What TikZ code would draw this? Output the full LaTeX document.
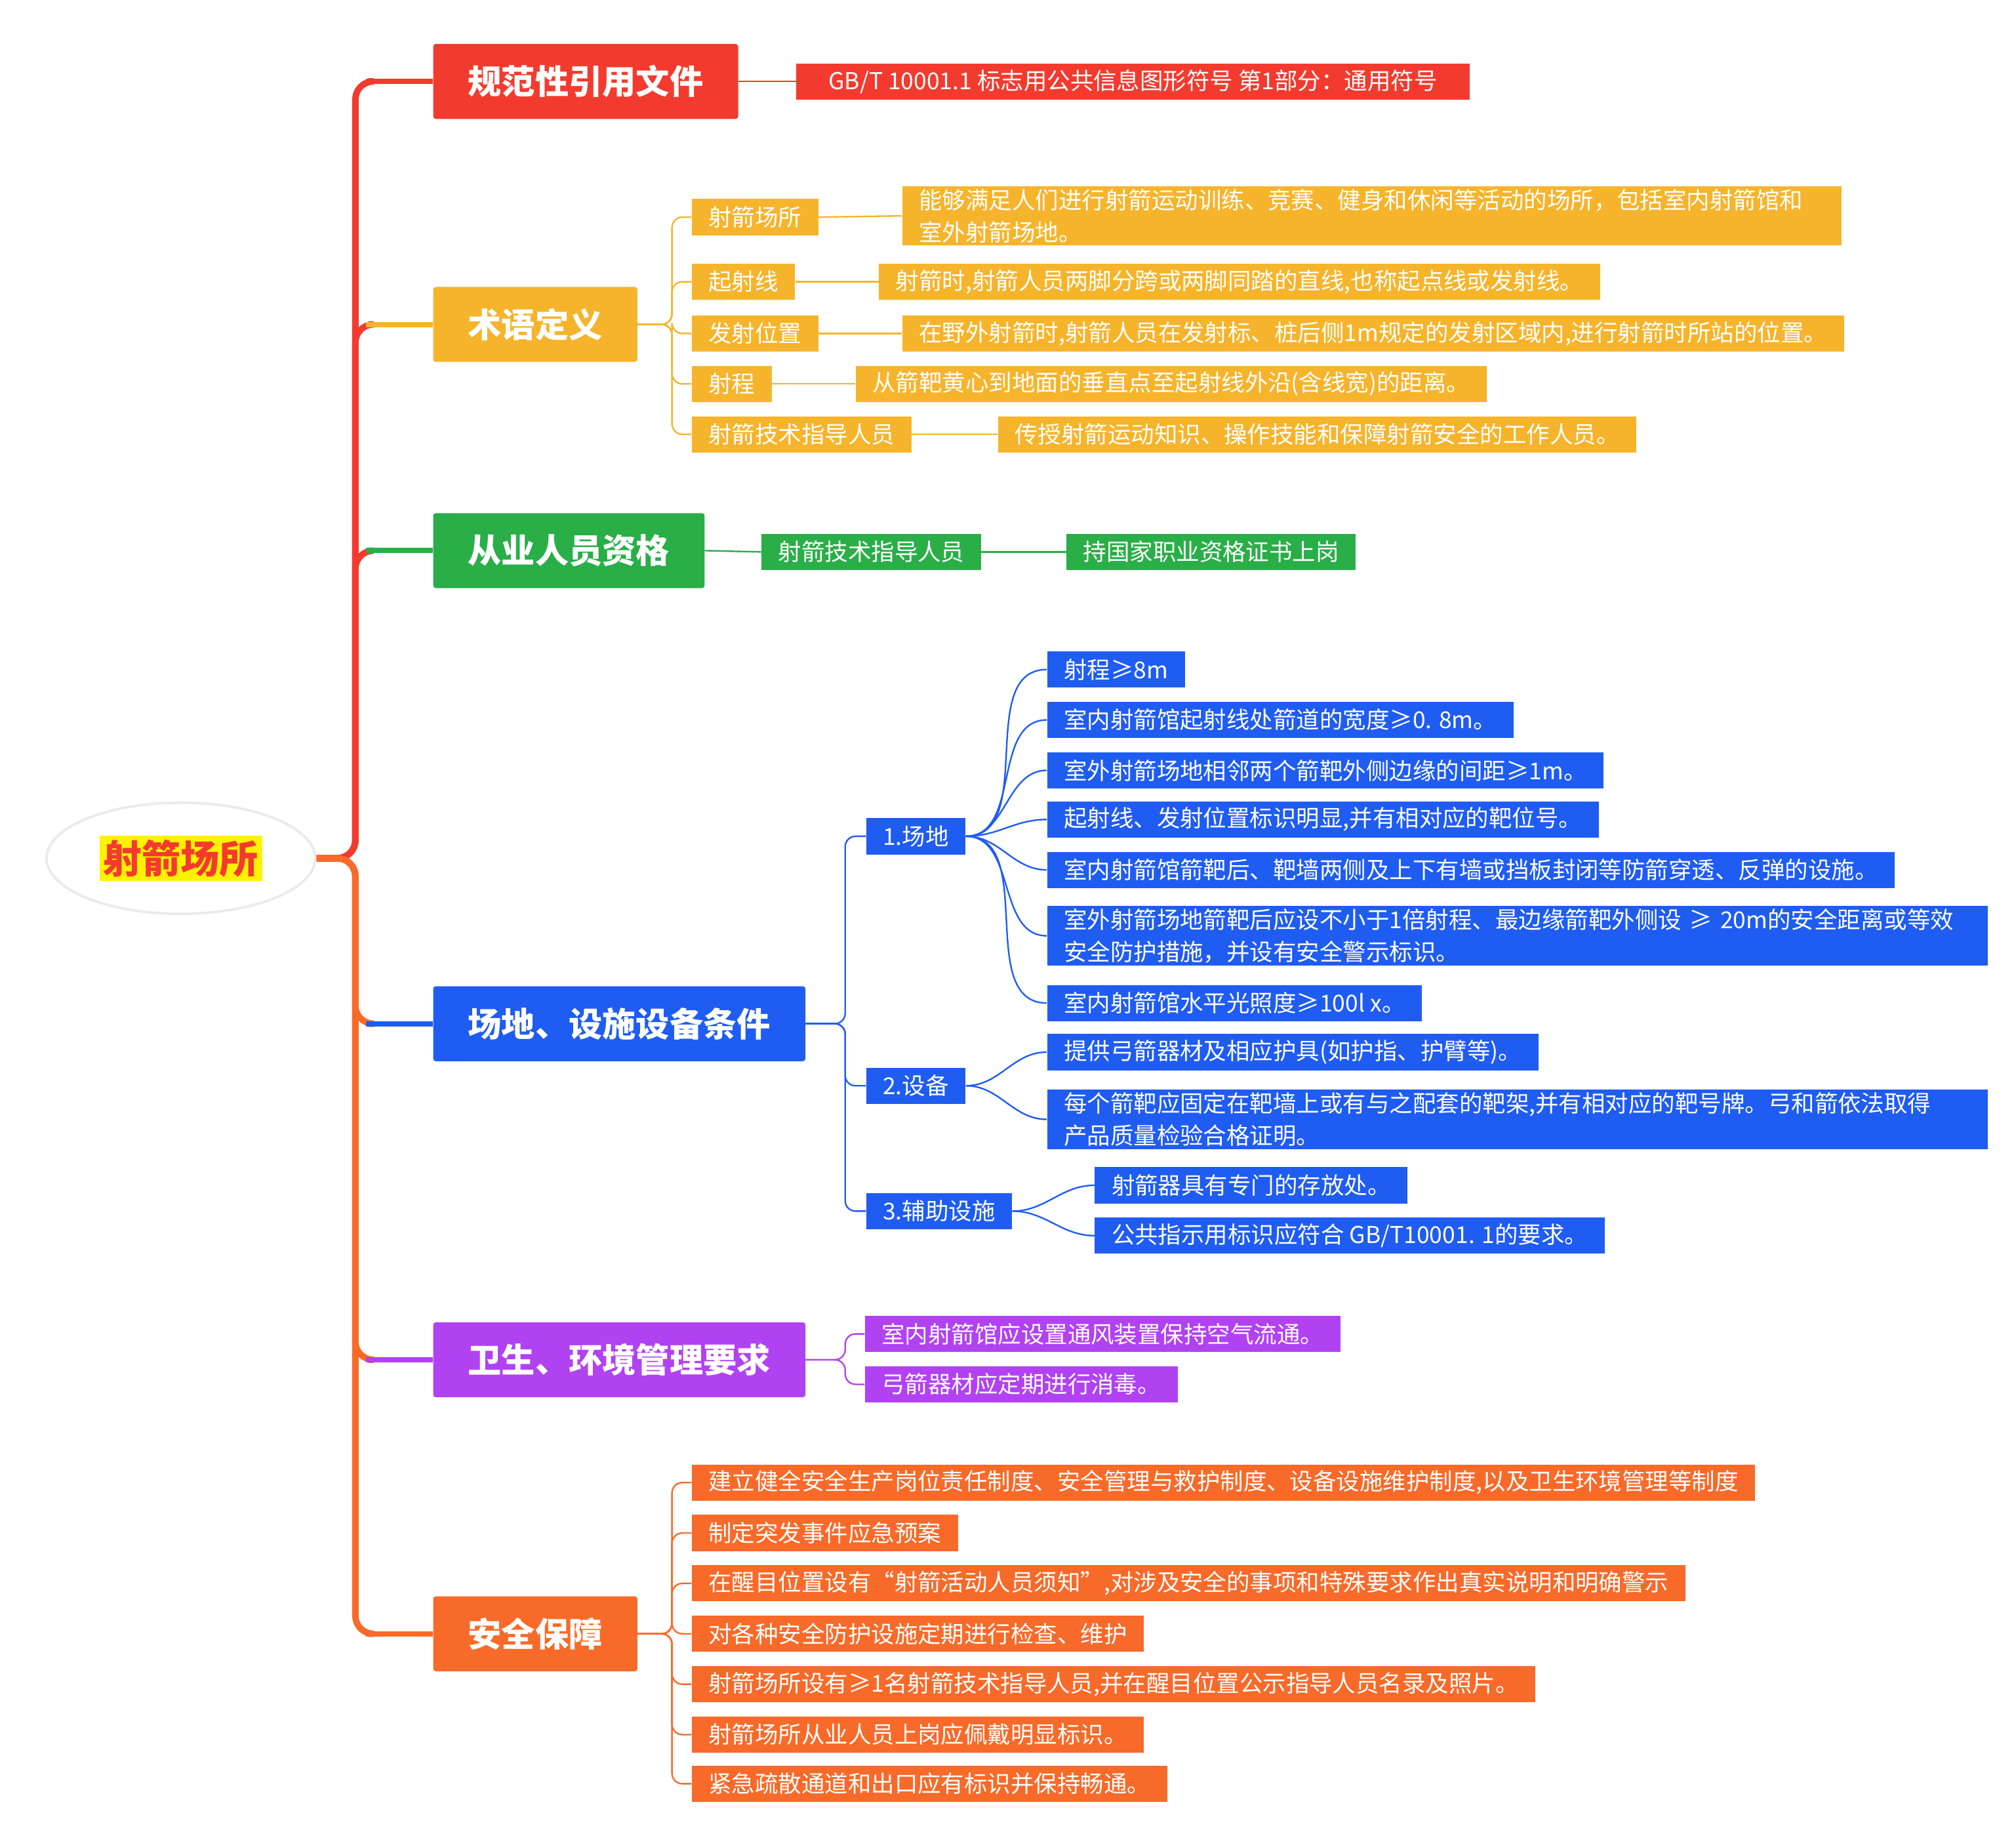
\documentclass[tikz,border=0pt]{standalone}
\usepackage{fontspec}
\setmainfont{Noto Sans CJK SC}
\usepackage{xcolor}
\usetikzlibrary{shapes, arrows, positioning}
\definecolor{cRed}{HTML}{F23B2E}
\definecolor{cYel}{HTML}{F6B42C}
\definecolor{cGrn}{HTML}{2AAE48}
\definecolor{cBlu}{HTML}{1F5CF2}
\definecolor{cPur}{HTML}{B142F2}
\definecolor{cOrg}{HTML}{F86A29}
\tikzset{
  topic/.style={anchor=west, minimum height=58pt, inner xsep=27pt, text=white, font=\fontsize{26}{30}\selectfont\bfseries, rounded corners=2pt},
  leaf/.style={anchor=west, minimum height=28pt, inner xsep=13pt, inner ysep=2pt, text=white, font=\fontsize{18}{25}\selectfont, align=left},
  trunk/.style={line width=5pt, rounded corners=14pt},
  twig/.style={line width=1.2pt}
}
\begin{document}
\begin{tikzpicture}[x=1pt, y=-1pt]
        \useasboundingbox (0,0) rectangle (1560,1420);
        % Root
        \node (root) [ellipse, fill=white, draw=black!8, line width=2pt, minimum width=208pt, minimum height=86pt] at (140,664)
            {\colorbox{yellow}{\fontsize{30}{34}\selectfont\bfseries\color{cRed}射箭场所}};

        % Topics
        \node (ref) [topic, fill=cRed] at (335,63) {规范性引用文件};
        \node (term) [topic, fill=cYel] at (335,251) {术语定义};
        \node (staff) [topic, fill=cGrn] at (335,426) {从业人员资格};
        \node (site) [topic, fill=cBlu] at (335,792) {场地、设施设备条件};
        \node (hyg) [topic, fill=cPur] at (335,1052) {卫生、环境管理要求};
        \node (safe) [topic, fill=cOrg] at (335,1264) {安全保障};

        % Trunk
        \foreach \t in {ref, term, staff}
            \draw[trunk, cRed] (root.east) -- (275,664) |- ([xshift=-50pt]\t.west);
        \foreach \t in {site, hyg, safe}
            \draw[trunk, cOrg] (root.east) -- (275,664) |- ([xshift=-50pt]\t.west);
        \draw[line width=4pt, cRed] (283,63) -- (ref.west);
        \draw[line width=4pt, cYel] (283,251) -- (term.west);
        \draw[line width=4pt, cGrn] (283,426) -- (staff.west);
        \draw[line width=4pt, cBlu] (283,792) -- (site.west);
        \draw[line width=4pt, cPur] (283,1052) -- (hyg.west);
        \draw[line width=4pt, cOrg] (283,1264) -- (safe.west);

        % Reference
        \node (gb) [leaf, fill=cRed, minimum width=521pt] at (616,63) {GB/T 10001.1 标志用公共信息图形符号 第1部分：通用符号};
        \draw[twig, cRed] (ref.east) -- (gb.west);

        % Terms
        \node (t1) [leaf, fill=cYel] at (535,168) {射箭场所};
        \node (d1) [leaf, fill=cYel, text width=701pt] at (698,167) {能够满足人们进行射箭运动训练、竞赛、健身和休闲等活动的场所，包括室内射箭馆和\\室外射箭场地。};
        \node (t2) [leaf, fill=cYel] at (535,218) {起射线};
        \node (d2) [leaf, fill=cYel] at (680,218) {射箭时,射箭人员两脚分跨或两脚同踏的直线,也称起点线或发射线。};
        \node (t3) [leaf, fill=cYel] at (535,258) {发射位置};
        \node (d3) [leaf, fill=cYel] at (698,258) {在野外射箭时,射箭人员在发射标、桩后侧1m规定的发射区域内,进行射箭时所站的位置。};
        \node (t4) [leaf, fill=cYel] at (535,297) {射程};
        \node (d4) [leaf, fill=cYel] at (662,297) {从箭靶黄心到地面的垂直点至起射线外沿(含线宽)的距离。};
        \node (t5) [leaf, fill=cYel] at (535,336) {射箭技术指导人员};
        \node (d5) [leaf, fill=cYel] at (772,336) {传授射箭运动知识、操作技能和保障射箭安全的工作人员。};
        \foreach \i in {1,...,5} {
            \draw[twig, cYel, rounded corners=8pt] (term.east) -- (520,251) |- (t\i.west);
            \draw[twig, cYel] (t\i.east) -- (d\i.west);
        }

        % Staff
        \node (s1) [leaf, fill=cGrn] at (589,427) {射箭技术指导人员};
        \node (s2) [leaf, fill=cGrn] at (825,427) {持国家职业资格证书上岗};
        \draw[twig, cGrn] (staff.east) -- (s1.west);
        \draw[twig, cGrn] (s1.east) -- (s2.west);

        % Site and facilities
        \node (field) [leaf, fill=cBlu] at (670,647) {1.场地};
        \node (equip) [leaf, fill=cBlu] at (670,840) {2.设备};
        \node (aux) [leaf, fill=cBlu] at (670,937) {3.辅助设施};
        \foreach \s in {field, equip, aux}
            \draw[twig, cBlu, rounded corners=8pt] (site.east) -- (654,792) |- (\s.west);
        \node (f1) [leaf, fill=cBlu] at (810,518) {射程≥8m};
        \node (f2) [leaf, fill=cBlu] at (810,557) {室内射箭馆起射线处箭道的宽度≥0. 8m。};
        \node (f3) [leaf, fill=cBlu] at (810,596) {室外射箭场地相邻两个箭靶外侧边缘的间距≥1m。};
        \node (f4) [leaf, fill=cBlu] at (810,634) {起射线、发射位置标识明显,并有相对应的靶位号。};
        \node (f5) [leaf, fill=cBlu] at (810,673) {室内射箭馆箭靶后、靶墙两侧及上下有墙或挡板封闭等防箭穿透、反弹的设施。};
        \node (f6) [leaf, fill=cBlu, text width=702pt] at (810,724) {室外射箭场地箭靶后应设不小于1倍射程、最边缘箭靶外侧设 ≥ 20m的安全距离或等效\\安全防护措施，并设有安全警示标识。};
        \node (f7) [leaf, fill=cBlu] at (810,776) {室内射箭馆水平光照度≥100l x。};
        \foreach \i in {1,...,7}
            \draw[twig, cBlu] (field.east) to[out=0, in=180] (f\i.west);
        \node (e1) [leaf, fill=cBlu] at (810,814) {提供弓箭器材及相应护具(如护指、护臂等)。};
        \node (e2) [leaf, fill=cBlu, text width=702pt] at (810,866) {每个箭靶应固定在靶墙上或有与之配套的靶架,并有相对应的靶号牌。弓和箭依法取得\\产品质量检验合格证明。};
        \foreach \i in {1,2}
            \draw[twig, cBlu] (equip.east) to[out=0, in=180] (e\i.west);
        \node (a1) [leaf, fill=cBlu] at (847,917) {射箭器具有专门的存放处。};
        \node (a2) [leaf, fill=cBlu] at (847,956) {公共指示用标识应符合 GB/T10001. 1的要求。};
        \foreach \i in {1,2}
            \draw[twig, cBlu] (aux.east) to[out=0, in=180] (a\i.west);

        % Hygiene
        \node (h1) [leaf, fill=cPur] at (669,1032) {室内射箭馆应设置通风装置保持空气流通。};
        \node (h2) [leaf, fill=cPur] at (669,1071) {弓箭器材应定期进行消毒。};
        \foreach \i in {1,2}
            \draw[twig, cPur, rounded corners=8pt] (hyg.east) -- (654,1052) |- (h\i.west);

        % Safety
        \node (g1) [leaf, fill=cOrg] at (535,1147) {建立健全安全生产岗位责任制度、安全管理与救护制度、设备设施维护制度,以及卫生环境管理等制度};
        \node (g2) [leaf, fill=cOrg] at (535,1186) {制定突发事件应急预案};
        \node (g3) [leaf, fill=cOrg] at (535,1225) {在醒目位置设有“射箭活动人员须知”,对涉及安全的事项和特殊要求作出真实说明和明确警示};
        \node (g4) [leaf, fill=cOrg] at (535,1264) {对各种安全防护设施定期进行检查、维护};
        \node (g5) [leaf, fill=cOrg] at (535,1303) {射箭场所设有≥1名射箭技术指导人员,并在醒目位置公示指导人员名录及照片。};
        \node (g6) [leaf, fill=cOrg] at (535,1342) {射箭场所从业人员上岗应佩戴明显标识。};
        \node (g7) [leaf, fill=cOrg] at (535,1380) {紧急疏散通道和出口应有标识并保持畅通。};
        \foreach \i in {1,...,7}
            \draw[twig, cOrg, rounded corners=8pt] (safe.east) -- (520,1264) |- (g\i.west);
    \end{tikzpicture}
\end{document}
